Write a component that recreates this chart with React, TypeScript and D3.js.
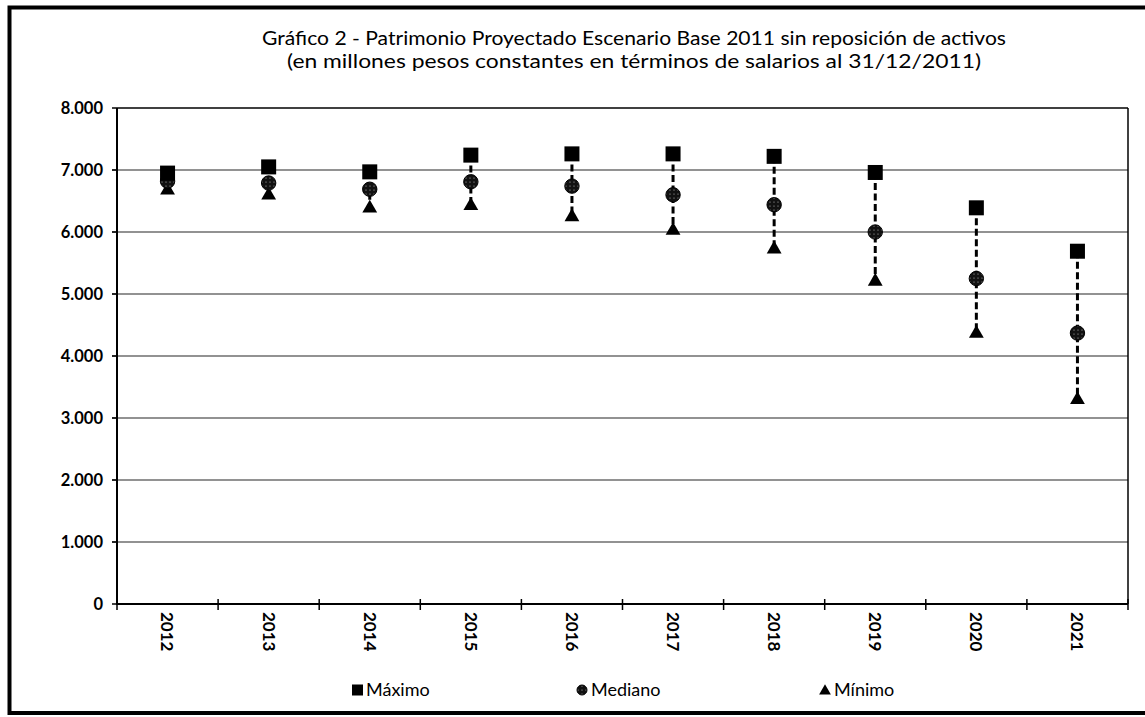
import React from "react";
import * as d3 from "d3";

const years = ["2012", "2013", "2014", "2015", "2016", "2017", "2018", "2019", "2020", "2021"];
const maximo = [6950, 7050, 6970, 7240, 7260, 7260, 7220, 6960, 6390, 5690];
const mediano = [6820, 6790, 6690, 6810, 6740, 6600, 6440, 6000, 5250, 4370];
const minimo = [6690, 6610, 6400, 6440, 6260, 6040, 5740, 5220, 4380, 3310];
const yTicks = [0, 1000, 2000, 3000, 4000, 5000, 6000, 7000, 8000];
const titleLines = [
  "Gráfico 2 - Patrimonio Proyectado Escenario Base 2011 sin reposición de activos",
  "(en millones pesos constantes en términos de salarios al 31/12/2011)",
];
const legendItems = [
  { label: "Máximo", shape: "square" },
  { label: "Mediano", shape: "circle" },
  { label: "Mínimo", shape: "triangle" },
];

const W = 1145;
const H = 717;
const left = 117;
const right = 1128;
const top = 108;
const bottom = 604;
const FONT = "Lato, 'Open Sans', sans-serif";

export default function App() {
  const x = d3.scaleBand<string>().domain(years).range([left, right]).padding(0);
  const y = d3.scaleLinear().domain([0, 8000]).range([bottom, top]);
  const fmt = (v: number) => (v === 0 ? "0" : d3.format(",")(v).replace(/,/g, "."));
  const cx = (yr: string) => (x(yr) as number) + x.bandwidth() / 2;
  const tri = d3.symbol().type(d3.symbolTriangle).size(95);
  const legendX = [352, 577, 820];
  const titleWidths = [744, 694];

  return (
    <svg width={W} height={H} style={{ position: "absolute", left: 0, top: 0, background: "#fff" }} fontFamily={FONT}>
      <defs>
        <pattern id="dots" width="4" height="4" patternUnits="userSpaceOnUse">
          <rect width="4" height="4" fill="#111" />
          <circle cx="2" cy="2" r="0.6" fill="#bbb" />
        </pattern>
      </defs>
      <rect x={0} y={0} width={W} height={H} fill="#fff" />
      {/* outer border (left, top, bottom) */}
      <path d={`M${W + 5},7.5 H9.5 V713 H${W + 5}`} fill="none" stroke="#000" strokeWidth={4} />

      {/* title */}
      {titleLines.map((t, i) => (
        <text
          key={i}
          x={634}
          y={45 + i * 23}
          textAnchor="middle"
          fontSize={19.5}
          textLength={titleWidths[i]}
          lengthAdjust="spacingAndGlyphs"
          fill="#000"
        >
          {t}
        </text>
      ))}

      {/* gridlines */}
      {yTicks.filter((v) => v > 0 && v < 8000).map((v) => (
        <line key={v} x1={left - 5} x2={right} y1={y(v)} y2={y(v)} stroke="#6e6e6e" strokeWidth={1.6} />
      ))}
      {/* plot frame */}
      <line x1={left} x2={right} y1={top} y2={top} stroke="#000" strokeWidth={1.5} />
      <line x1={right} x2={right} y1={top} y2={bottom} stroke="#000" strokeWidth={1.5} />
      <line x1={left} x2={left} y1={top} y2={bottom + 1} stroke="#000" strokeWidth={2} />
      <line x1={left - 1} x2={right} y1={bottom} y2={bottom} stroke="#000" strokeWidth={2} />

      {/* y ticks and labels */}
      {yTicks.map((v) => (
        <g key={v}>
          <line x1={left - 5} x2={left} y1={y(v)} y2={y(v)} stroke="#000" strokeWidth={1.5} />
          <text x={103} y={y(v)} dy="0.36em" textAnchor="end" fontSize={16.5} fontWeight="bold" fill="#000">
            {fmt(v)}
          </text>
        </g>
      ))}

      {/* x ticks */}
      {years.map((yr) => (
        <line key={"t" + yr} x1={x(yr) as number} x2={x(yr) as number} y1={bottom - 5} y2={bottom + 6} stroke="#000" strokeWidth={1.5} />
      ))}
      <line x1={right} x2={right} y1={bottom - 5} y2={bottom + 6} stroke="#000" strokeWidth={1.5} />

      {/* x labels */}
      {years.map((yr) => (
        <text
          key={"l" + yr}
          transform={`translate(${cx(yr)},612) rotate(90)`}
          dy="0.36em"
          textAnchor="start"
          fontSize={17}
          fontWeight="bold"
          fill="#000"
        >
          {yr}
        </text>
      ))}

      {/* range lines */}
      {years.map((yr, i) => (
        <line
          key={"r" + yr}
          x1={cx(yr)}
          x2={cx(yr)}
          y1={y(maximo[i])}
          y2={y(minimo[i])}
          stroke="#000"
          strokeWidth={3}
          strokeDasharray="7,3.5"
        />
      ))}

      {/* markers */}
      {years.map((yr, i) => (
        <g key={"m" + yr}>
          <path d={tri() as string} transform={`translate(${cx(yr)},${y(minimo[i]) + 1})`} fill="#000" />
          <circle cx={cx(yr)} cy={y(mediano[i])} r={7.2} fill="url(#dots)" stroke="#000" strokeWidth={1} />
          <rect x={cx(yr) - 7.5} y={y(maximo[i]) - 7.5} width={15} height={15} fill="#000" />
        </g>
      ))}

      {/* legend */}
      {legendItems.map((it, i) => {
        const lx = legendX[i];
        const ly = 690;
        return (
          <g key={it.label}>
            {it.shape === "square" && <rect x={lx} y={ly - 5.5} width={11} height={11} fill="#000" />}
            {it.shape === "circle" && <circle cx={lx + 5} cy={ly} r={5} fill="url(#dots)" stroke="#000" />}
            {it.shape === "triangle" && (
              <path d={d3.symbol().type(d3.symbolTriangle).size(60)() as string} transform={`translate(${lx + 5},${ly + 1})`} fill="#000" />
            )}
            <text x={lx + 14} y={ly} dy="0.36em" fontSize={18} fill="#000">
              {it.label}
            </text>
          </g>
        );
      })}
    </svg>
  );
}
